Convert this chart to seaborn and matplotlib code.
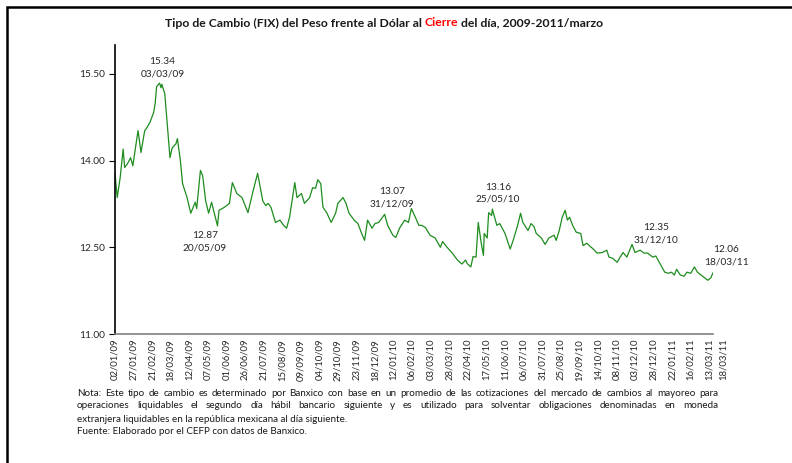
import pandas as pd
import matplotlib
matplotlib.use("Agg")
import matplotlib.pyplot as plt
import matplotlib.dates as mdates
import matplotlib.transforms as mtransforms
from matplotlib.patches import Rectangle
import seaborn as sns

sns.set_theme(style="white")
plt.rcParams["font.family"] = ["Lato", "DejaVu Sans"]

# tipo de cambio FIX
fechas = [
    "2009-01-02", "2009-01-05", "2009-01-09", "2009-01-13", "2009-01-15", "2009-01-19",
    "2009-01-23", "2009-01-26", "2009-01-29", "2009-02-02", "2009-02-06", "2009-02-11",
    "2009-02-13", "2009-02-18", "2009-02-23", "2009-02-25", "2009-02-27", "2009-03-03",
    "2009-03-05", "2009-03-06", "2009-03-10", "2009-03-13", "2009-03-17", "2009-03-20",
    "2009-03-25", "2009-03-27", "2009-03-31", "2009-04-03", "2009-04-09", "2009-04-14",
    "2009-04-20", "2009-04-22", "2009-04-27", "2009-04-30", "2009-05-04", "2009-05-08",
    "2009-05-12", "2009-05-20", "2009-05-22", "2009-05-29", "2009-06-05", "2009-06-09",
    "2009-06-15", "2009-06-22", "2009-06-30", "2009-07-07", "2009-07-13", "2009-07-20",
    "2009-07-24", "2009-07-27", "2009-07-31", "2009-08-06", "2009-08-12", "2009-08-17",
    "2009-08-21", "2009-08-25", "2009-08-28", "2009-09-01", "2009-09-04", "2009-09-10",
    "2009-09-14", "2009-09-21", "2009-09-25", "2009-09-29", "2009-10-02", "2009-10-06",
    "2009-10-09", "2009-10-14", "2009-10-20", "2009-10-26", "2009-10-29", "2009-11-05",
    "2009-11-09", "2009-11-13", "2009-11-20", "2009-11-25", "2009-11-30", "2009-12-04",
    "2009-12-08", "2009-12-14", "2009-12-18", "2009-12-23", "2009-12-31", "2010-01-04",
    "2010-01-11", "2010-01-15", "2010-01-20", "2010-01-27", "2010-02-01", "2010-02-05",
    "2010-02-11", "2010-02-15", "2010-02-19", "2010-02-24", "2010-03-02", "2010-03-09",
    "2010-03-16", "2010-03-19", "2010-03-25", "2010-04-01", "2010-04-08", "2010-04-14",
    "2010-04-19", "2010-04-21", "2010-04-26", "2010-04-29", "2010-05-03", "2010-05-06",
    "2010-05-10", "2010-05-13", "2010-05-14", "2010-05-18", "2010-05-20", "2010-05-24",
    "2010-05-25", "2010-05-31", "2010-06-04", "2010-06-11", "2010-06-18", "2010-06-22",
    "2010-06-28", "2010-07-02", "2010-07-05", "2010-07-12", "2010-07-16", "2010-07-20",
    "2010-07-23", "2010-07-30", "2010-08-04", "2010-08-09", "2010-08-16", "2010-08-19",
    "2010-08-23", "2010-08-27", "2010-08-31", "2010-09-03", "2010-09-06", "2010-09-10",
    "2010-09-15", "2010-09-21", "2010-09-24", "2010-09-29", "2010-10-05", "2010-10-07",
    "2010-10-13", "2010-10-20", "2010-10-26", "2010-10-29", "2010-11-03", "2010-11-09",
    "2010-11-12", "2010-11-17", "2010-11-22", "2010-11-29", "2010-12-03", "2010-12-10",
    "2010-12-15", "2010-12-20", "2010-12-27", "2010-12-31", "2011-01-03", "2011-01-07",
    "2011-01-12", "2011-01-17", "2011-01-21", "2011-01-25", "2011-01-28", "2011-02-02",
    "2011-02-07", "2011-02-11", "2011-02-16", "2011-02-21", "2011-02-25", "2011-03-04",
    "2011-03-11", "2011-03-15", "2011-03-18",
]
valores = [
    13.78, 13.36, 13.71, 14.20, 13.88, 13.95,
    14.05, 13.91, 14.17, 14.52, 14.14, 14.52,
    14.55, 14.66, 14.83, 14.98, 15.28, 15.34,
    15.26, 15.32, 15.16, 14.69, 14.05, 14.22,
    14.29, 14.38, 14.00, 13.60, 13.36, 13.09,
    13.28, 13.17, 13.83, 13.74, 13.31, 13.09,
    13.28, 12.87, 13.14, 13.19, 13.26, 13.62,
    13.43, 13.36, 13.10, 13.48, 13.78, 13.30,
    13.22, 13.26, 13.19, 12.93, 12.97, 12.88,
    12.83, 13.02, 13.28, 13.62, 13.36, 13.43,
    13.26, 13.36, 13.53, 13.52, 13.67, 13.60,
    13.19, 13.10, 12.93, 13.09, 13.26, 13.36,
    13.26, 13.09, 12.97, 12.91, 12.74, 12.62,
    12.97, 12.83, 12.91, 12.93, 13.07, 12.88,
    12.71, 12.67, 12.83, 12.97, 12.93, 13.17,
    13.00, 12.88, 12.88, 12.84, 12.71, 12.66,
    12.50, 12.60, 12.50, 12.40, 12.28, 12.21,
    12.28, 12.22, 12.16, 12.34, 12.33, 12.93,
    12.57, 12.36, 12.74, 12.66, 13.10, 13.05,
    13.16, 12.88, 12.91, 12.74, 12.47, 12.62,
    12.88, 13.09, 12.93, 12.79, 12.91, 12.86,
    12.74, 12.66, 12.55, 12.66, 12.71, 12.62,
    12.79, 13.02, 13.14, 12.97, 13.02, 12.88,
    12.76, 12.74, 12.53, 12.57, 12.50, 12.48,
    12.40, 12.41, 12.45, 12.33, 12.31, 12.24,
    12.31, 12.41, 12.33, 12.55, 12.41, 12.45,
    12.40, 12.40, 12.33, 12.35, 12.28, 12.19,
    12.07, 12.05, 12.07, 12.02, 12.12, 12.02,
    12.00, 12.07, 12.05, 12.16, 12.07, 12.00,
    11.93, 11.97, 12.06,
]

# puntos anotados y desplazamiento de la etiqueta (en puntos)
notas_fecha = ["2009-03-03", "2009-05-20", "2009-12-31", "2010-05-25", "2010-12-31", "2011-03-18"]
notas_valor = [15.34, 12.87, 13.07, 13.16, 12.35, 12.06]
notas_offset = [(2, 11), (-9, -11.5), (5, 12), (4, 11.5), (0, 16), (9.5, 12)]

nota_lineas = [
    "Nota: Este tipo de cambio es determinado por Banxico con base en un promedio de las cotizaciones del mercado de cambios al mayoreo para",
    "operaciones liquidables el segundo día hábil bancario siguiente y es utilizado para solventar obligaciones denominadas en moneda",
    "extranjera liquidables en la república mexicana al día siguiente.",
    "Fuente: Elaborado por el CEFP con datos de Banxico.",
]

df = pd.DataFrame({"fecha": pd.to_datetime(fechas), "valor": valores})

W, H = 792, 463
fig = plt.figure(figsize=(W / 100, H / 100), dpi=100)
ax = fig.add_axes([115 / W, 1 - 334 / H, (713 - 115) / W, (334 - 45) / H])

sns.lineplot(data=df, x="fecha", y="valor", ax=ax, color="#1e8c1e", linewidth=0.9)

ax.set_ylim(11, 16)
ax.set_yticks([11, 12.5, 14, 15.5])
ax.yaxis.set_major_formatter(matplotlib.ticker.FormatStrFormatter("%.2f"))
ax.set_xlim(pd.Timestamp("2009-01-02"), pd.Timestamp("2011-03-18"))
ticks = list(pd.date_range("2009-01-02", "2011-03-13", freq="25D")) + [pd.Timestamp("2011-03-18")]
ax.set_xticks(ticks)
ax.xaxis.set_major_formatter(mdates.DateFormatter("%d/%m/%y"))
ax.set_xlabel("")
ax.set_ylabel("")

for s in ["top", "right"]:
    ax.spines[s].set_visible(False)
ax.spines["left"].set_color("black")
ax.spines["left"].set_linewidth(1.2)
ax.spines["bottom"].set_color("#808080")
ax.spines["bottom"].set_linewidth(1.2)

ax.tick_params(axis="x", direction="inout", length=5, width=0.8, color="#404040",
               labelsize=6.8, labelcolor="#262626", rotation=90, pad=1)
ax.tick_params(axis="y", direction="out", length=4, width=0.8, color="black",
               labelsize=7.3, labelcolor="#262626", pad=3, left=True)

# la ultima etiqueta (18/03/11) queda corrida a la derecha
lbls = ax.get_xticklabels()
lbls[-1].set_transform(lbls[-1].get_transform() + mtransforms.ScaledTranslation(10 / 100, 0, fig.dpi_scale_trans))
ax.get_xticklines()[-2].set_visible(False)

for f, v, off in zip(notas_fecha, notas_valor, notas_offset):
    ax.annotate(f"{v:.2f}\n{pd.Timestamp(f):%d/%m/%y}", xy=(pd.Timestamp(f), v),
                xytext=off, textcoords="offset points", ha="center", va="center",
                fontsize=7.3, color="#262626", linespacing=1.45)

# titulo con "Cierre" en rojo
r = fig.canvas.get_renderer()
fs_tit = 8.8
partes = [("Tipo de Cambio (FIX) del Peso frente al Dólar al", "#1a1a1a"),
          ("Cierre", "#ff0000"),
          ("del día, 2009-2011/marzo", "#1a1a1a")]
tt = [fig.text(0, 1 - 23 / H, p, color=c, fontsize=fs_tit, fontweight="bold", va="center")
      for p, c in partes]
sp = fig.text(0, 0, "x x", fontsize=fs_tit, fontweight="bold")
sp2 = fig.text(0, 0, "xx", fontsize=fs_tit, fontweight="bold")
esp = sp.get_window_extent(r).width - sp2.get_window_extent(r).width
sp.remove()
sp2.remove()
anchos = [t.get_window_extent(r).width for t in tt]
total = sum(anchos) + 2 * esp
x = 384 - total / 2
for t, w in zip(tt, anchos):
    t.set_x(x / W)
    x += w + esp

# nota al pie, primeras dos lineas justificadas
fs_nota = 7.1
y0 = 393
for i, linea in enumerate(nota_lineas):
    y = 1 - (y0 + 13 * i) / H
    if i < 2:
        palabras = linea.split(" ")
        ts = [fig.text(0, y, p, fontsize=fs_nota, color="#1a1a1a", va="center") for p in palabras]
        ws = [t.get_window_extent(r).width for t in ts]
        gap = ((718 - 77) - sum(ws)) / (len(ws) - 1)
        x = 77
        for t, w in zip(ts, ws):
            t.set_x(x / W)
            x += w + gap
    else:
        fig.text(77 / W, y, linea, fontsize=fs_nota, color="#1a1a1a", va="center")

fig.patches.append(Rectangle((7 / W, -0.02), 1.0, 1 - 7 / H + 0.02, transform=fig.transFigure,
                             fill=False, edgecolor="black", linewidth=1.8))

fig.savefig("out.png", dpi=100)
